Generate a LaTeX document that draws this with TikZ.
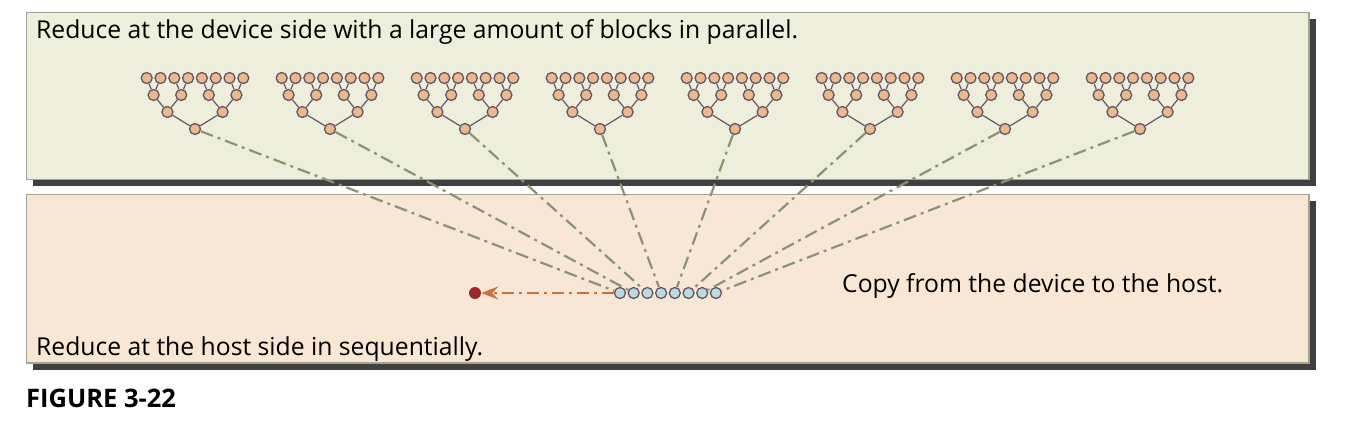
\documentclass[tikz,border=0pt]{standalone}
\usepackage{fontspec}
\setmainfont{Open Sans}
\usetikzlibrary{arrows.meta}
\definecolor{topfill}{HTML}{EDEFDC}
\definecolor{botfill}{HTML}{F9E7D6}
\definecolor{boxedge}{HTML}{A2A392}
\definecolor{shadowcol}{HTML}{404040}
\definecolor{orangefill}{HTML}{EEB888}
\definecolor{bluefill}{HTML}{BCDADF}
\definecolor{nodeedge}{HTML}{625668}
\definecolor{greenline}{HTML}{8A9570}
\definecolor{orangeline}{HTML}{C9703B}
\definecolor{reddot}{HTML}{9A2A2C}
\begin{document}
\begin{tikzpicture}[x=1pt,y=-1pt,
  onode/.style={circle,draw=nodeedge,fill=orangefill,line width=1.3pt,minimum size=11pt,inner sep=0pt},
  bnode/.style={circle,draw=nodeedge,fill=bluefill,line width=1.3pt,minimum size=11pt,inner sep=0pt},
  rnode/.style={circle,fill=reddot,minimum size=12pt,inner sep=0pt},
  tedge/.style={draw=nodeedge,line width=1.2pt},
  gline/.style={draw=greenline,line width=2.2pt,dash pattern=on 13pt off 5pt on 3pt off 5pt},
  oline/.style={draw=orangeline,line width=2.2pt,dash pattern=on 12pt off 5pt on 3pt off 5pt,
    -{Stealth[length=17pt,width=13pt,inset=6pt]}},
  panel/.style={draw=boxedge,line width=1.2pt},
  shadow/.style={fill=shadowcol},
  lbl/.style={anchor=base west,inner sep=0pt,font=\fontsize{24.7}{29}\selectfont},
  figlbl/.style={anchor=base west,inner sep=0pt,font=\fontsize{25.5}{30}\selectfont\bfseries}]
\useasboundingbox (0,0) rectangle (1356,434);
% panels
\fill[shadow] (33,19) rectangle (1315.5,186);
\fill[shadow] (33,201) rectangle (1315.5,370);
\path[panel,fill=topfill] (26.5,12.5) rectangle (1309,179.5);
\path[panel,fill=botfill] (26.5,194.5) rectangle (1309,363);
% texts
\node[lbl] (toptext) at (36,38) {Reduce at the device side with a large amount of blocks in parallel.};
\node[lbl] (copytext) at (842,292) {Copy from the device to the host.};
\node[lbl] (bottext) at (36,355) {Reduce at the host side in sequentially.};
\node[figlbl] (fig) at (26,407) {FIGURE 3-22};
% host side nodes
\foreach \i in {0,...,7}{
  \node[bnode] (b\i) at ({620+13.7*\i},293) {};
}
\node[rnode] (red) at (475,293) {};
\draw[oline] (b0) -- (red);
% trees
\foreach \k in {0,...,7}{
  \pgfmathsetmacro\rx{195+135*\k}
  \node[onode] (r\k) at (\rx,129) {};
  \foreach \j in {0,1}{
    \node[onode] (m\k-\j) at ({\rx+(2*\j-1)*27.6},112) {};
    \draw[tedge] (m\k-\j) -- (r\k);
  }
  \foreach \i in {0,...,3}{
    \pgfmathtruncatemacro\p{\i/2}
    \node[onode] (n\k-\i) at ({\rx+(\i-1.5)*27.6},95) {};
    \draw[tedge] (n\k-\i) -- (m\k-\p);
  }
  \foreach \i in {0,...,7}{
    \pgfmathtruncatemacro\p{\i/2}
    \node[onode] (l\k-\i) at ({\rx+(\i-3.5)*13.8},78) {};
    \draw[tedge] (l\k-\i) -- (n\k-\p);
  }
  \draw[gline] (r\k) -- (b\k);
}
\end{tikzpicture}
\end{document}
